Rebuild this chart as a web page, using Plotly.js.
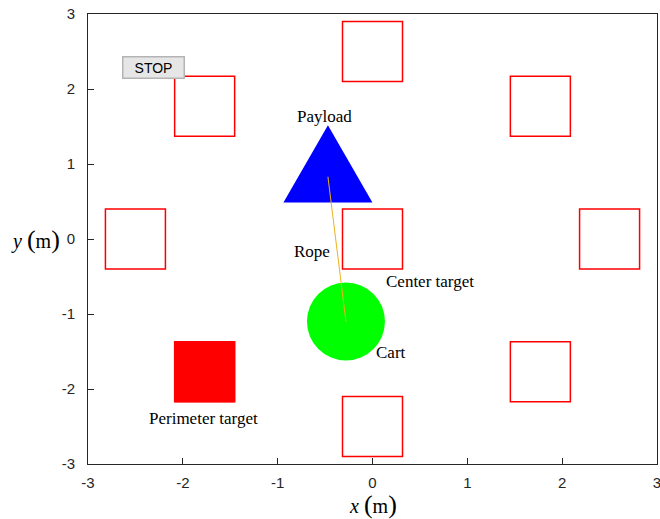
<!DOCTYPE html>
<html>
<head>
<meta charset="utf-8">
<script src="https://cdn.plot.ly/plotly-3.0.1.min.js"></script>
<style>html,body{margin:0;padding:0;background:#fff;}</style>
</head>
<body>
<div id="chart" style="width:660px;height:519px;"></div>
<script>
// ---- data ----
const perimeterX = [0, 1.77, 2.5, 1.77, 0, -1.77, -2.5, -1.77];
const perimeterY = [2.5, 1.77, 0, -1.77, -2.5, -1.77, 0, 1.77];
const centerTarget = [0, 0];
const activeTarget = [-1.77, -1.77];
const payloadPos = [-0.47, 0.83];
const cartPos = [-0.28, -1.10];
const tickVals = [-3, -2, -1, 0, 1, 2, 3];
const tickText = ['-3', '-2', '-1', '0', '1', '2', '3'];
const labelText = ['Payload', 'Rope', 'Center target', 'Cart', 'Perimeter target'];
const labelX = [-0.51, -0.64, 0.61, 0.20, -1.78];
const labelY = [1.63, -0.16, -0.56, -1.51, -2.39];

const serif = 'Liberation Serif, Times New Roman, serif';
const sans = 'Liberation Sans, Arial, sans-serif';

const traces = [
  { x: perimeterX.concat([centerTarget[0]]), y: perimeterY.concat([centerTarget[1]]),
    mode: 'markers', type: 'scatter', hoverinfo: 'skip',
    marker: { symbol: 'square-open', size: 60, color: '#ff0000', line: { width: 1.5, color: '#ff0000' } } },
  { x: [activeTarget[0]], y: [activeTarget[1]], mode: 'markers', type: 'scatter', hoverinfo: 'skip',
    marker: { symbol: 'square', size: 60, color: '#ff0000', line: { width: 1, color: '#ff0000' } } },
  { x: [cartPos[0]], y: [cartPos[1]], mode: 'markers', type: 'scatter', hoverinfo: 'skip',
    marker: { symbol: 'circle', size: 78, color: '#00ff00', line: { width: 0 } } },
  { x: [payloadPos[0], cartPos[0]], y: [payloadPos[1], cartPos[1]], mode: 'lines', type: 'scatter',
    hoverinfo: 'skip', line: { color: '#EDB120', width: 1 } }
];

const annotations = labelText.map((t, i) => ({
  x: labelX[i], y: labelY[i], xref: 'x', yref: 'y', text: t, showarrow: false,
  xanchor: 'center', yanchor: 'middle',
  font: { family: serif, size: 17, color: '#000' }
}));
annotations.push({
  xref: 'paper', yref: 'paper', x: 0.115, y: 0.882, xanchor: 'center', yanchor: 'middle',
  text: 'STOP', showarrow: false,
  width: 58, height: 18, bgcolor: '#e6e6e6', bordercolor: '#b4b4b4', borderwidth: 1.5, borderpad: 1,
  font: { family: sans, size: 14, color: '#000' }
});
annotations.push({
  xref: 'paper', yref: 'paper', x: -0.092, y: 0.5, xanchor: 'center', yanchor: 'middle',
  text: '<i>y</i> <span style="font-size:26px">(</span>m<span style="font-size:26px">)</span>',
  showarrow: false, font: { family: serif, size: 20, color: '#000' }
});
annotations.push({
  xref: 'paper', yref: 'paper', x: 0.5, y: -0.09, xanchor: 'center', yanchor: 'middle',
  text: '<i>x</i> <span style="font-size:26px">(</span>m<span style="font-size:26px">)</span>',
  showarrow: false, font: { family: serif, size: 20, color: '#000' }
});

const layout = {
  width: 660, height: 519,
  margin: { l: 88, r: 3, t: 14, b: 55 },
  paper_bgcolor: '#fff', plot_bgcolor: '#fff',
  showlegend: false,
  xaxis: {
    range: [-3, 3], tickvals: tickVals, ticktext: tickText,
    ticks: 'inside', ticklen: 6, tickcolor: '#262626', tickwidth: 1,
    showline: true, linecolor: '#262626', linewidth: 1, mirror: true,
    showgrid: false, zeroline: false, ticklabelstandoff: 5, ticklabeloverflow: 'allow',
    tickfont: { family: sans, size: 15, color: '#262626' }
  },
  yaxis: {
    range: [-3, 3], tickvals: tickVals, ticktext: tickText,
    ticks: 'inside', ticklen: 6, tickcolor: '#262626', tickwidth: 1,
    showline: true, linecolor: '#262626', linewidth: 1, mirror: true,
    showgrid: false, zeroline: false, ticklabelstandoff: 9, ticklabeloverflow: 'allow',
    tickfont: { family: sans, size: 15, color: '#262626' }
  },
  shapes: [{
    type: 'path', layer: 'below', xref: 'x', yref: 'y',
    xsizemode: 'pixel', ysizemode: 'pixel', xanchor: payloadPos[0], yanchor: payloadPos[1],
    path: 'M 0 51.5 L 44.5 -25.7 L -44.5 -25.7 Z',
    fillcolor: '#0000ff', line: { width: 0 }
  }],
  annotations: annotations
};

Plotly.newPlot('chart', traces, layout, { staticPlot: true, displayModeBar: false });
</script>
</body>
</html>
